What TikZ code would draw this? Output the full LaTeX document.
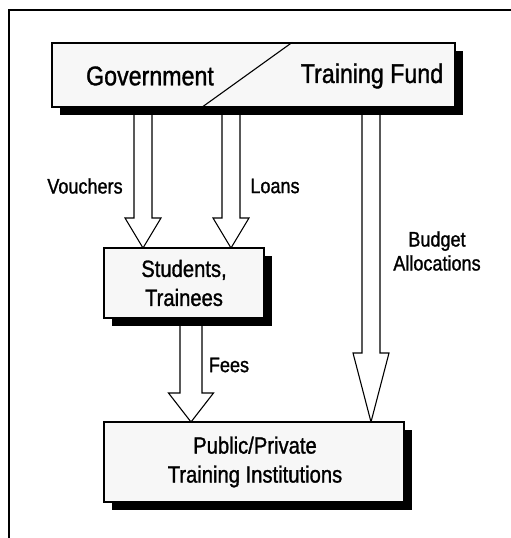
\documentclass[tikz,border=0pt]{standalone}
\usepackage{fontspec}
\setmainfont[FakeStretch=0.86, FakeBold=1.2]{Liberation Sans}
\usetikzlibrary{calc,shadows}

% block arrow between two named points: #1 tail, #2 tip,
% #3 half shaft width, #4 half head width, #5 head length
\newcommand\blockarrow[5]{%
  \draw[flowarrow] let \p1=(#1), \p2=(#2) in
    (\x1-#3,\y1) -- (\x1-#3,\y2+#5) -- (\x1-#4,\y2+#5) -- (\x2,\y2)
    -- (\x1+#4,\y2+#5) -- (\x1+#3,\y2+#5) -- (\x1+#3,\y1);}

\begin{document}
\begin{tikzpicture}[x=1pt,y=-1pt,
  frame/.style={line width=1.6pt},
  flowbox/.style={draw, line width=1.4pt, fill=black!3, inner sep=0pt,
    drop shadow={shadow xshift=7.5pt, shadow yshift=-7.5pt, fill=black, opacity=1}},
  flowarrow/.style={draw, line width=1.1pt, fill=white, line join=miter},
  boxtext/.style={font=\fontsize{23.5}{29}\selectfont, align=center},
  bigtext/.style={font=\fontsize{27}{29}\selectfont},
  flowlabel/.style={font=\fontsize{21}{24}\selectfont, align=center}]
\useasboundingbox (0,0) rectangle (511,538);

% outer frame (top and left edges)
\draw[frame] (511,10) -- (9,10) -- (9,538);

% arrow ends
\coordinate (vtail) at (143,100);
\coordinate (vtip)  at (143,248);
\coordinate (ltail) at (231,100);
\coordinate (ltip)  at (231,248);
\coordinate (btail) at (371,100);
\coordinate (btip)  at (371,422);
\coordinate (ftail) at (191,310);
\coordinate (ftip)  at (191,422);

% block arrows
\blockarrow{vtail}{vtip}{9pt}{18pt}{30pt}
\blockarrow{ltail}{ltip}{9pt}{18pt}{30pt}
\blockarrow{btail}{btip}{9pt}{18pt}{69pt}
\blockarrow{ftail}{ftip}{11pt}{22.5pt}{29pt}

% boxes
\node[flowbox, minimum width=403pt, minimum height=64pt] (fund) at (253.5,75) {};
\node[flowbox, minimum width=160pt, minimum height=70pt] (stud) at (184,283) {};
\node[flowbox, minimum width=300pt, minimum height=80pt] (inst) at (254,462) {};

% split of the top box
\draw[line width=1.1pt] ($(fund.south west)+(150,0)$) -- ($(fund.north west)+(241,0)$);

% box texts
\node[bigtext] (gov) at (150,76) {Government};
\node[bigtext] (tf)  at (372,76) {Training Fund};
\node[boxtext] (studtext) at (stud) {Students,\\Trainees};
\node[boxtext] (insttext) at (255,462) {Public/Private\\Training Institutions};

% flow labels
\node[flowlabel] (vouch)  at (85,186)  {Vouchers};
\node[flowlabel] (loans)  at (275,186) {Loans};
\node[flowlabel] (fees)   at (229,365) {Fees};
\node[flowlabel] (budget) at (437,251) {Budget\\Allocations};
\end{tikzpicture}
\end{document}
